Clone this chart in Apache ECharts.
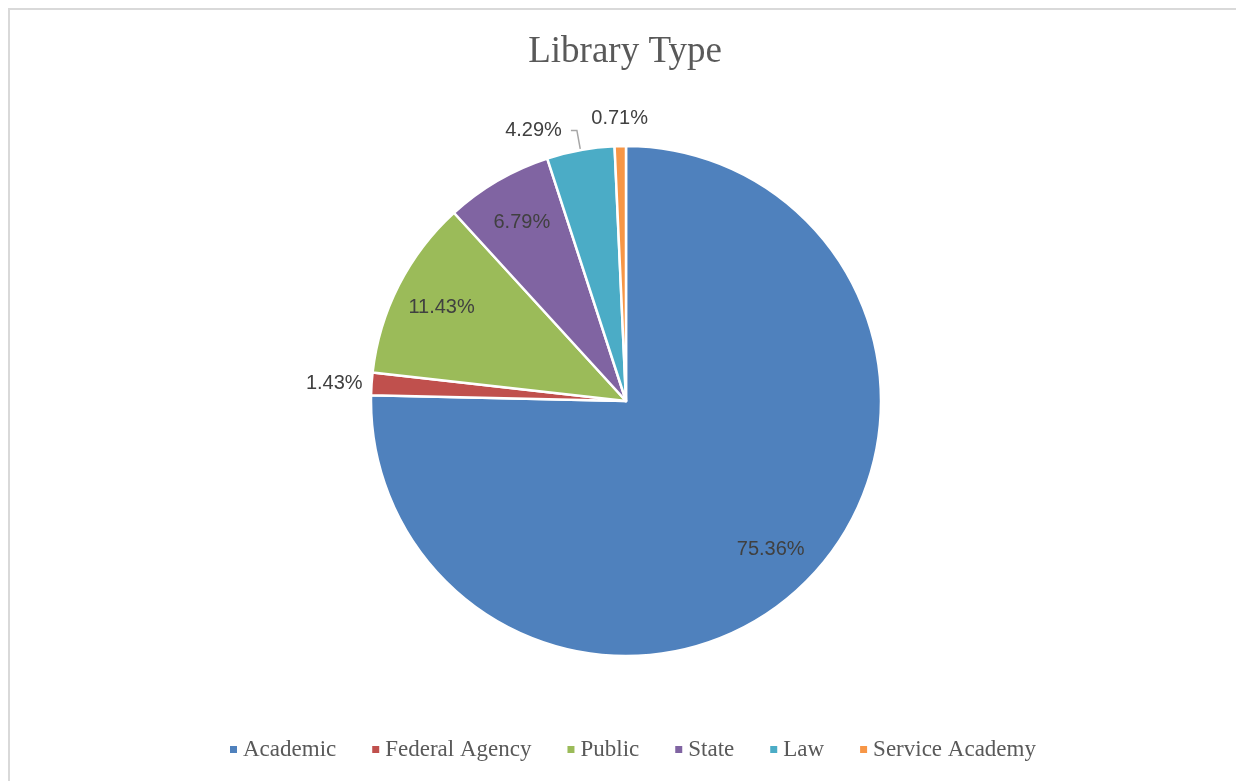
<!DOCTYPE html>
<html>
<head>
<meta charset="utf-8">
<script src="https://cdn.jsdelivr.net/npm/echarts@6/dist/echarts.min.js"></script>
<style>
html,body{margin:0;padding:0;background:#fff;}
#chart{width:1236px;height:781px;}
</style>
</head>
<body>
<div id="chart"></div>
<script>
const titleText = 'Library Type';
const categories = ['Academic', 'Federal Agency', 'Public', 'State', 'Law', 'Service Academy'];
const counts = [211, 4, 32, 19, 12, 2];
const colors = ['#4F81BD', '#C0504D', '#9BBB59', '#8064A2', '#4BACC6', '#F79646'];
const insideLabelIdx = [0, 2, 3];

const total = counts.reduce((a, b) => a + b, 0);
const pctFormatter = p => (p.value / total * 100).toFixed(2) + '%';
const labelFont = { fontFamily: 'Liberation Sans', fontSize: 20, color: '#404040' };

const outsideCfg = {
  1: { length: 5, length2: 0, distance: 4, line: false },
  4: { length: 20, length2: 6, distance: 9, line: true },
  5: { length: 28, length2: 0, distance: 0, line: false }
};

const mainData = categories.map((name, i) => {
  const item = { name: name, value: counts[i], itemStyle: { color: colors[i] } };
  const oc = outsideCfg[i];
  if (oc) {
    item.label = Object.assign({ show: true, position: 'outside', formatter: pctFormatter, distanceToLabelLine: oc.distance }, labelFont);
    item.labelLine = { show: oc.line, length: oc.length, length2: oc.length2, smooth: false, lineStyle: { color: '#a6a6a6', width: 1.5 } };
  } else {
    item.label = { show: false };
    item.labelLine = { show: false };
  }
  return item;
});

const helperData = categories.map((name, i) => ({
  name: name,
  value: counts[i],
  itemStyle: { color: 'rgba(0,0,0,0)', borderWidth: 0 },
  label: Object.assign({ show: insideLabelIdx.indexOf(i) >= 0, position: 'inside', formatter: pctFormatter }, labelFont)
}));

const chart = echarts.init(document.getElementById('chart'), null, { renderer: 'canvas' });
chart.setOption({
  animation: false,
  backgroundColor: '#fff',
  graphic: [{
    type: 'rect', silent: true, z: -10,
    shape: { x: 9, y: 9, width: 1400, height: 1000 },
    style: { fill: 'none', stroke: '#d9d9d9', lineWidth: 2 }
  }],
  title: {
    text: titleText, left: 620, textAlign: 'center', top: 29,
    textStyle: { fontFamily: 'Liberation Serif', fontSize: 37, fontWeight: 'normal', color: '#595959' }
  },
  legend: {
    data: categories, left: 228, top: 738, padding: 0,
    icon: 'rect', itemWidth: 9, itemHeight: 9, itemGap: 34,
    textStyle: { fontFamily: 'Liberation Serif', fontSize: 23, color: '#595959' }
  },
  series: [
    {
      type: 'pie', center: [626, 401], radius: [0, 255], startAngle: 90, clockwise: true,
      avoidLabelOverlap: false,
      itemStyle: { borderColor: '#fff', borderWidth: 2.5 },
      labelLayout: function (p) {
        if (p.dataIndex === 5) return { align: 'center' };
        return {};
      },
      data: mainData
    },
    {
      type: 'pie', center: [626, 401], radius: [153, 255], startAngle: 90, clockwise: true,
      silent: true, avoidLabelOverlap: false,
      labelLine: { show: false },
      data: helperData
    }
  ]
});
</script>
</body>
</html>
